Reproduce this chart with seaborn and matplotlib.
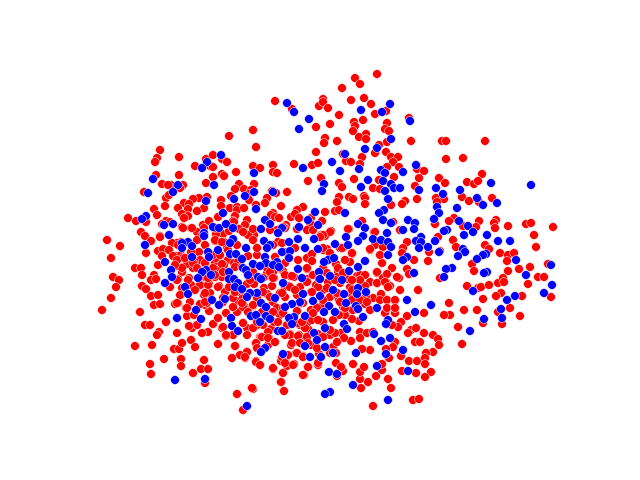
import pandas as pd
import matplotlib
matplotlib.use("Agg")
import matplotlib.pyplot as plt
import seaborn as sns

# values, one list per part of the cloud
blue_upper_left = [(287,103),(294,112),(309,119),(299,129),(221,155),(207,162),(202,168),(303,168),(254,173),(153,179),
    (214,185),(178,185),(173,192),(148,193),(254,192),(273,192),(245,196),(234,199),(206,201),(256,209),(223,213),(315,212),
    (146,216),(142,219),(265,220),(270,224),(308,220),(318,225),(164,225),(173,224),(213,227),(219,228),(226,224),(233,228),
    (261,229),(282,228),(299,227),(278,233),(169,235),(204,233),(204,236)]
red_upper_left = [(275,101),(292,109),(319,106),(253,130),(229,136),(256,147),(160,150),(157,158),(155,162),(179,157),
    (206,159),(222,159),(213,155),(227,162),(195,166),(210,166),(213,167),(253,166),(260,168),(273,165),(273,172),(277,173),
    (294,164),(312,165),(318,163),(316,152),(316,127),(236,172),(222,174),(224,176),(213,177),(206,183),(156,175),(179,175),
    (162,184),(171,185),(168,185),(183,185),(180,188),(239,184),(254,184),(235,189),(244,189),(251,190),(249,194),(308,181),
    (287,192),(272,191),(276,193),(144,192),(166,198),(169,195),(267,198),(265,203),(207,197),(199,198),(193,199),(184,203),
    (189,204),(221,200),(231,196),(221,206),(230,208),(237,207),(237,210),(244,208),(249,200),(256,205),(281,206),(303,207),
    (297,210),(165,206),(154,209),(178,208),(188,209),(204,208),(197,211),(182,214),(188,216),(184,218),(128,218),(136,221),
    (146,222),(157,215),(218,217),(235,216),(233,221),(247,220),(273,213),(271,215),(275,217),(279,218),(291,217),(295,214),
    (299,218),(311,218),(166,221),(170,222),(162,224),(141,232),(145,236),(160,236),(182,227),(191,228),(203,225),(209,221),
    (245,225),(234,222),(204,228),(223,234),(229,231),(239,229),(244,232),(253,231),(254,235),(286,225),(277,230),(297,229),
    (310,223),(197,232),(202,235),(216,234),(248,235)]
blue_upper_right = [(390,104),(361,110),(382,112),(410,121),(391,139),(365,149),(377,148),(345,154),(332,162),(416,165),
    (359,169),(340,171),(381,170),(385,173),(403,172),(368,180),(383,181),(391,184),(361,187),(394,188),(400,188),(385,191),
    (324,184),(322,191),(419,190),(436,188),(460,190),(491,183),(531,185),(443,194),(388,199),(477,198),(483,205),(497,203),
    (437,207),(457,208),(384,210),(439,213),(379,213),(345,213),(434,219),(383,220),(408,220),(459,221),(391,223),(415,223),
    (358,224),(365,228),(468,226),(414,229),(403,230),(447,230),(444,231),(473,232),(387,233),(487,235),(346,237),(363,236),
    (421,237),(464,235)]
red_upper_right = [(377,74),(355,78),(360,84),(342,88),(323,99),(323,102),(328,108),(351,100),(364,98),(371,104),(386,111),
    (375,114),(339,115),(409,118),(363,120),(330,124),(354,122),(355,126),(387,123),(385,129),(389,131),(353,131),(366,134),
    (359,137),(366,139),(325,138),(324,143),(337,141),(387,142),(411,141),(379,145),(442,141),(446,141),(485,141),(375,153),
    (386,152),(343,154),(346,161),(351,162),(362,157),(360,164),(391,157),(398,157),(393,162),(387,167),(399,167),(446,159),
    (463,158),(417,169),(424,171),(394,177),(419,178),(482,174),(354,179),(379,180),(439,178),(445,183),(467,182),(474,184),
    (478,181),(321,178),(339,183),(342,187),(373,188),(380,189),(415,186),(364,196),(365,198),(339,197),(349,197),(353,199),
    (337,202),(436,198),(444,199),(437,202),(417,199),(405,201),(402,204),(391,205),(365,204),(462,197),(469,201),(492,198),
    (479,202),(325,212),(335,211),(339,210),(454,218),(449,221),(435,224),(479,221),(463,226),(496,220),(494,223),(495,228),
    (508,226),(526,224),(531,223),(553,227),(476,227),(393,222),(362,221),(322,221),(349,229),(331,231),(321,235),(325,236),
    (374,232),(400,230),(534,235),(438,237)]
blue_lower_left = [(145,245),(188,242),(182,243),(182,248),(192,246),(233,239),(230,243),(264,241),(289,242),(298,239),
    (314,239),(270,245),(267,248),(246,248),(305,248),(318,249),(208,252),(218,250),(230,254),(236,254),(282,252),(290,251),
    (265,257),(242,259),(289,258),(192,257),(209,257),(165,262),(253,264),(266,263),(277,262),(260,266),(273,265),(279,267),
    (171,270),(206,270),(202,272),(211,275),(229,272),(243,268),(246,270),(298,269),(319,272),(248,275),(172,277),(198,278),
    (229,279),(258,277),(261,279),(302,278),(319,279),(234,279),(238,283),(235,287),(165,283),(185,287),(283,283),(242,289),
    (188,294),(257,293),(250,293),(247,297),(303,294),(275,298),(212,300),(225,299),(313,301),(300,302),(292,304),(219,305),
    (261,303),(266,307),(285,307),(196,310),(305,316),(251,316),(256,315),(294,317),(289,318),(266,316),(270,319),(201,319),
    (177,318),(231,318),(260,322),(292,324),(232,326),(238,331),(278,331),(282,331),(314,333),(317,340),(305,346),(265,348),
    (261,352),(283,354),(310,357),(175,380),(205,379),(247,406)]
red_lower_left = [(107,240),(120,246),(111,258),(146,253),(151,241),(160,237),(158,251),(163,249),(181,242),(177,243),
    (176,256),(181,255),(158,265),(135,268),(141,268),(142,275),(154,275),(151,280),(156,279),(113,277),(119,280),(116,287),
    (142,286),(146,289),(111,298),(102,310),(151,296),(158,295),(154,305),(160,304),(175,304),(178,303),(140,312),(186,308),
    (145,325),(150,325),(166,322),(159,332),(157,335),(177,333),(135,346),(152,345),(174,349),(179,349),(182,343),(191,340),
    (195,347),(164,359),(181,359),(150,364),(181,366),(204,360),(201,369),(208,369),(151,374),(193,373),(205,383),(218,344),
    (235,346),(247,352),(242,355),(245,358),(232,358),(256,361),(260,365),(273,369),(283,373),(281,382),(284,391),(253,389),
    (237,394),(243,410),(304,375),(308,367),(318,365),(294,364),(287,366),(281,361),(285,360),(296,353),(303,356),(319,354),
    (256,344),(260,337),(268,345),(275,342),(269,338),(291,345),(301,343),(311,345),(290,334),(299,335),(306,337),(318,334),
    (308,329),(318,320),(310,320),(300,325),(271,329),(261,337),(268,332),(247,328),(243,323),(226,336),(233,335),(222,328),
    (213,324),(208,332),(202,333),(192,328),(197,325),(189,326),(187,316),(194,315),(218,318),(209,311),(205,305),(200,304),
    (207,303),(226,313),(233,307),(237,301),(244,306),(243,297),(253,306),(233,298),(225,292),(204,295),(210,293),(181,295),
    (182,288),(189,278),(191,285),(201,285),(209,284),(219,286),(229,287),(237,292),(247,284),(264,288),(272,286),(254,284),
    (274,278),(266,276),(290,276),(289,286),(300,287),(311,292),(316,285),(307,279),(283,294),(267,294),(257,298),(273,302),
    (277,308),(297,295),(285,297),(303,303),(317,307),(311,310),(307,323),(297,311),(280,315),(270,312),(247,310),(237,312),
    (262,312),(287,325),(274,322),(263,325),(257,325),(298,323),(290,320),(176,263),(181,267),(177,266),(193,268),(182,272),
    (170,287),(178,279),(222,264),(215,263),(216,258),(228,260),(224,265),(234,263),(238,262),(217,270),(215,277),(222,277),
    (223,272),(205,277),(220,242),(215,241),(224,242),(253,240),(257,248),(237,245),(199,252),(205,245),(227,248),(248,256),
    (257,255),(275,257),(285,263),(298,260),(307,258),(312,254),(295,248),(278,242),(307,269),(313,275),(294,277),(283,271),
    (273,272),(267,273),(253,273),(200,260),(205,263),(194,261),(191,252),(172,243),(169,250),(162,256),(183,258),(187,264)]
blue_lower_right = [(335,244),(348,245),(358,241),(373,239),(381,240),(388,242),(391,247),(416,241),(421,242),(428,247),
    (419,248),(435,241),(439,252),(498,241),(510,241),(463,249),(465,252),(458,256),(486,254),(483,255),(477,259),(516,260),
    (407,257),(403,260),(388,255),(365,261),(328,260),(324,262),(334,258),(358,267),(349,271),(414,273),(452,268),(446,269),
    (444,277),(487,272),(484,273),(526,275),(551,265),(330,276),(342,280),(320,279),(358,288),(366,292),(333,290),(357,294),
    (344,294),(473,291),(552,285),(544,293),(515,296),(507,300),(407,300),(320,296),(346,303),(329,306),(356,306),(431,305),
    (377,308),(358,309),(501,309),(415,312),(324,312),(335,312),(363,317),(484,319),(502,318),(388,320),(386,324),(344,324),
    (347,329),(325,328),(470,331),(374,334),(390,338),(381,341),(325,347),(403,350),(333,353),(356,353),(386,354),(321,357),
    (377,366),(408,371),(329,372),(337,374),(353,385),(330,392),(325,394),(388,400)]
red_lower_right = [(453,240),(456,247),(407,242),(485,245),(489,249),(536,247),(403,248),(402,253),(370,250),(375,245),
    (383,247),(380,255),(343,248),(352,254),(349,262),(382,263),(414,260),(428,261),(429,252),(440,251),(500,253),(508,255),
    (514,253),(507,261),(519,269),(530,267),(508,271),(472,264),(474,271),(392,268),(407,269),(409,274),(399,278),(377,273),
    (387,274),(365,275),(357,276),(370,282),(377,283),(383,278),(386,282),(390,286),(400,290),(418,290),(440,278),(467,286),
    (478,288),(481,287),(489,285),(498,283),(503,278),(504,282),(528,284),(538,277),(544,277),(548,264),(551,297),(522,296),
    (501,293),(496,296),(483,299),(449,303),(464,310),(477,310),(498,312),(510,308),(520,316),(450,315),(444,315),(424,313),
    (407,316),(395,301),(387,300),(381,294),(373,298),(365,304),(370,310),(395,313),(385,313),(401,322),(398,327),(392,325),
    (483,323),(502,324),(458,327),(462,344),(411,330),(416,328),(408,333),(424,333),(433,335),(438,339),(439,345),(433,352),
    (415,342),(420,342),(395,342),(393,347),(386,349),(401,356),(389,358),(409,361),(417,361),(426,353),(425,358),(425,364),
    (431,372),(416,373),(402,371),(425,377),(388,379),(391,388),(413,400),(419,399),(373,406),(361,388),(368,382),(360,379),
    (376,376),(360,372),(364,367),(382,370),(382,364),(353,364),(343,371),(336,363),(341,367),(337,376),(370,350),(362,349),
    (351,341),(360,332),(360,338),(367,333),(373,332),(359,321),(352,319),(345,315),(352,310),(339,315),(333,320),(341,333),
    (344,338),(333,347),(336,353),(325,335),(330,335),(323,322),(330,297),(337,295),(339,300),(350,293),(352,300),(340,283),
    (328,282),(323,290),(338,272),(337,277),(352,280),(365,286),(350,287),(366,297),(360,300),(353,310),(323,305),(343,307),
    (327,249),(323,250),(340,248),(323,268),(327,273),(336,264),(348,279)]
red_centre_left = [(183,228),(192,228),(215,228),(233,228),(243,232),(253,229),(270,230),(285,228),(215,240),(222,242),
    (197,240),(178,245),(173,256),(177,260),(185,258),(193,263),(182,268),(175,265),(197,268),(222,264),(213,255),(220,255),
    (228,250),(257,248),(282,243),(285,252),(273,245),(235,267),(213,268),(215,275),(223,272),(242,267),(253,272),(267,268),
    (280,268),(270,272),(273,278),(285,275),(263,278),(250,280),(177,280),(188,280),(200,285),(208,285),(218,287),(205,293),
    (195,290),(180,295),(190,302),(177,303),(187,308),(205,302),(223,298),(233,307),(243,307),(253,305),(263,292),(270,297),
    (280,293),(285,287),(235,292),(242,290),(208,278)]
red_centre_right = [(283,227),(330,232),(348,229),(375,232),(323,235),(320,237),(307,230),(313,230),(323,248),(330,253),
    (342,248),(352,253),(370,249),(380,255),(350,262),(345,260),(312,261),(307,268),(292,276),(338,268),(343,273),(360,275),
    (365,275),(377,272),(387,274),(397,277),(377,283),(385,282),(388,287),(360,280),(352,280),(335,280),(290,287),(282,293),
    (295,290),(307,282),(318,287),(327,288),(312,292),(323,300),(337,293),(352,290),(380,300),(387,300),(395,300),(283,308),
    (300,303),(317,308),(345,308),(367,302),(387,308),(395,308),(340,302)]
red_centre_low = [(223,302),(233,307),(242,303),(253,305),(248,312),(243,323),(223,327),(226,335),(247,335),(253,328),
    (262,337),(268,338),(275,342),(256,343),(257,348),(235,346),(247,352),(240,355),(245,357),(232,358),(256,362),(260,365),
    (273,368),(283,373),(281,382),(252,388),(303,375),(308,367),(318,363),(330,353),(290,335),(298,336),(307,337),(305,328),
    (292,343),(300,343),(308,343),(285,335),(302,322),(312,320),(318,320),(313,313),(297,353),(288,355),(282,357),(293,365),
    (285,363),(303,357),(337,342),(335,333),(323,337),(317,348),(330,330),(257,322),(278,322),(283,313),(273,312)]

red_points = (red_upper_left + red_upper_right + red_lower_left + red_lower_right
              + red_centre_left + red_centre_right + red_centre_low)
blue_points = blue_upper_left + blue_upper_right + blue_lower_left + blue_lower_right

df = pd.DataFrame(red_points + blue_points, columns=["x", "y"])
df["group"] = ["red"] * len(red_points) + ["blue"] * len(blue_points)

fig, ax = plt.subplots(figsize=(6.4, 4.8), dpi=100)
sns.scatterplot(data=df, x="x", y="y", hue="group", palette={"red": "red", "blue": "blue"},
                s=40, linewidth=0.35, legend=False, ax=ax)
ax.set_xlim(80, 576)
ax.set_ylim(427.2, 57.6)
ax.set_axis_off()

fig.savefig("out.png", dpi=100)
